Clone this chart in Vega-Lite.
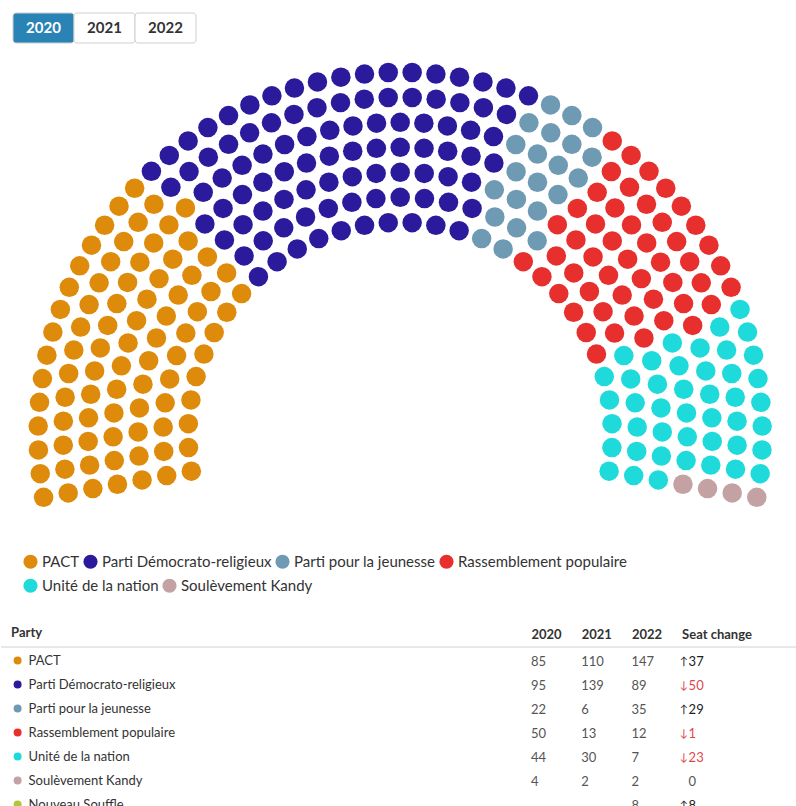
{
  "$schema": "https://vega.github.io/schema/vega-lite/v6.json",
  "background": "white",
  "padding": {"left": 0, "top": 12, "right": 0, "bottom": 0},
  "spacing": 0,
  "bounds": "flush",
  "config": {"view": {"stroke": null}, "font": "Lato"},
  "resolve": {"scale": {"color": "independent", "fill": "independent"}, "legend": {"color": "independent", "fill": "independent"}},
  "datasets": {
    "parties": [
      {"p": "PACT", "name": "PACT"},
      {"p": "PDR", "name": "Parti Démocrato-religieux"},
      {"p": "PPJ", "name": "Parti pour la jeunesse"},
      {"p": "RP", "name": "Rassemblement populaire"},
      {"p": "UN", "name": "Unité de la nation"},
      {"p": "SK", "name": "Soulèvement Kandy"}
    ],
    "rows": [
      {"row": 1, "lat": 68.79}, {"row": 2, "lat": 66.29}, {"row": 3, "lat": 63.79}, {"row": 4, "lat": 61.29},
      {"row": 5, "lat": 58.79}, {"row": 6, "lat": 56.29}, {"row": 7, "lat": 53.79}
    ]
  },
  "vconcat": [
    {
      "width": 796,
      "height": 30,
      "data": {"values": [
        {"year": "2020", "state": "selected"},
        {"year": "2021", "state": "default"},
        {"year": "2022", "state": "default"}
      ]},
      "encoding": {
        "x": {"field": "year", "type": "nominal", "axis": null,
              "scale": {"type": "band", "range": [12, 195], "paddingInner": 0, "paddingOuter": 0}}
      },
      "layer": [
        {
          "mark": {"type": "bar", "stroke": "#cfcfcf", "strokeWidth": 1, "cornerRadius": 3},
          "encoding": {"fill": {"field": "state", "type": "nominal", "legend": null,
                                "scale": {"domain": ["selected", "default"], "range": ["#2a83b5", "#ffffff"]}}}
        },
        {
          "mark": {"type": "text", "fontWeight": "bold", "fontSize": 15},
          "encoding": {
            "text": {"field": "year"},
            "color": {"field": "state", "type": "nominal", "legend": null,
                      "scale": {"domain": ["selected", "default"], "range": ["#ffffff", "#333333"]}}
          }
        }
      ]
    },
    {
      "width": 796,
      "height": 604,
      "data": {"values": [
        {"row":1,"lon":100,"p":"PACT"},{"row":1,"lon":93.55,"p":"PACT"},{"row":1,"lon":87.1,"p":"PACT"},{"row":1,"lon":80.65,"p":"PACT"},{"row":1,"lon":74.19,"p":"PACT"},{"row":1,"lon":67.74,"p":"PACT"},{"row":1,"lon":61.29,"p":"PACT"},{"row":1,"lon":54.84,"p":"PACT"},{"row":1,"lon":48.39,"p":"PACT"},
        {"row":1,"lon":41.94,"p":"PDR"},{"row":1,"lon":35.48,"p":"PDR"},{"row":1,"lon":29.03,"p":"PDR"},{"row":1,"lon":22.58,"p":"PDR"},{"row":1,"lon":16.13,"p":"PDR"},{"row":1,"lon":9.68,"p":"PDR"},{"row":1,"lon":3.23,"p":"PDR"},{"row":1,"lon":-3.23,"p":"PDR"},{"row":1,"lon":-9.68,"p":"PDR"},{"row":1,"lon":-16.13,"p":"PDR"},
        {"row":1,"lon":-22.58,"p":"PPJ"},{"row":1,"lon":-29.03,"p":"PPJ"},
        {"row":1,"lon":-35.48,"p":"RP"},{"row":1,"lon":-41.94,"p":"RP"},{"row":1,"lon":-48.39,"p":"RP"},{"row":1,"lon":-54.84,"p":"RP"},{"row":1,"lon":-61.29,"p":"RP"},{"row":1,"lon":-67.74,"p":"RP"},
        {"row":1,"lon":-74.19,"p":"UN"},{"row":1,"lon":-80.65,"p":"UN"},{"row":1,"lon":-87.1,"p":"UN"},{"row":1,"lon":-93.55,"p":"UN"},{"row":1,"lon":-100,"p":"UN"},

        {"row":2,"lon":100,"p":"PACT"},{"row":2,"lon":94.12,"p":"PACT"},{"row":2,"lon":88.24,"p":"PACT"},{"row":2,"lon":82.35,"p":"PACT"},{"row":2,"lon":76.47,"p":"PACT"},{"row":2,"lon":70.59,"p":"PACT"},{"row":2,"lon":64.71,"p":"PACT"},{"row":2,"lon":58.82,"p":"PACT"},{"row":2,"lon":52.94,"p":"PACT"},{"row":2,"lon":47.06,"p":"PACT"},
        {"row":2,"lon":41.18,"p":"PDR"},{"row":2,"lon":35.29,"p":"PDR"},{"row":2,"lon":29.41,"p":"PDR"},{"row":2,"lon":23.53,"p":"PDR"},{"row":2,"lon":17.65,"p":"PDR"},{"row":2,"lon":11.76,"p":"PDR"},{"row":2,"lon":5.88,"p":"PDR"},{"row":2,"lon":0,"p":"PDR"},{"row":2,"lon":-5.88,"p":"PDR"},{"row":2,"lon":-11.76,"p":"PDR"},{"row":2,"lon":-17.65,"p":"PDR"},
        {"row":2,"lon":-23.53,"p":"PPJ"},{"row":2,"lon":-29.41,"p":"PPJ"},{"row":2,"lon":-35.29,"p":"PPJ"},
        {"row":2,"lon":-41.18,"p":"RP"},{"row":2,"lon":-47.06,"p":"RP"},{"row":2,"lon":-52.94,"p":"RP"},{"row":2,"lon":-58.82,"p":"RP"},{"row":2,"lon":-64.71,"p":"RP"},
        {"row":2,"lon":-70.59,"p":"UN"},{"row":2,"lon":-76.47,"p":"UN"},{"row":2,"lon":-82.35,"p":"UN"},{"row":2,"lon":-88.24,"p":"UN"},{"row":2,"lon":-94.12,"p":"UN"},{"row":2,"lon":-100,"p":"UN"},

        {"row":3,"lon":100,"p":"PACT"},{"row":3,"lon":94.74,"p":"PACT"},{"row":3,"lon":89.47,"p":"PACT"},{"row":3,"lon":84.21,"p":"PACT"},{"row":3,"lon":78.95,"p":"PACT"},{"row":3,"lon":73.68,"p":"PACT"},{"row":3,"lon":68.42,"p":"PACT"},{"row":3,"lon":63.16,"p":"PACT"},{"row":3,"lon":57.89,"p":"PACT"},{"row":3,"lon":52.63,"p":"PACT"},{"row":3,"lon":47.37,"p":"PACT"},
        {"row":3,"lon":42.11,"p":"PDR"},{"row":3,"lon":36.84,"p":"PDR"},{"row":3,"lon":31.58,"p":"PDR"},{"row":3,"lon":26.32,"p":"PDR"},{"row":3,"lon":21.05,"p":"PDR"},{"row":3,"lon":15.79,"p":"PDR"},{"row":3,"lon":10.53,"p":"PDR"},{"row":3,"lon":5.26,"p":"PDR"},{"row":3,"lon":0,"p":"PDR"},{"row":3,"lon":-5.26,"p":"PDR"},{"row":3,"lon":-10.53,"p":"PDR"},{"row":3,"lon":-15.79,"p":"PDR"},
        {"row":3,"lon":-21.05,"p":"PPJ"},{"row":3,"lon":-26.32,"p":"PPJ"},{"row":3,"lon":-31.58,"p":"PPJ"},
        {"row":3,"lon":-36.84,"p":"RP"},{"row":3,"lon":-42.11,"p":"RP"},{"row":3,"lon":-47.37,"p":"RP"},{"row":3,"lon":-52.63,"p":"RP"},{"row":3,"lon":-57.89,"p":"RP"},{"row":3,"lon":-63.16,"p":"RP"},{"row":3,"lon":-68.42,"p":"RP"},
        {"row":3,"lon":-73.68,"p":"UN"},{"row":3,"lon":-78.95,"p":"UN"},{"row":3,"lon":-84.21,"p":"UN"},{"row":3,"lon":-89.47,"p":"UN"},{"row":3,"lon":-94.74,"p":"UN"},{"row":3,"lon":-100,"p":"UN"},

        {"row":4,"lon":100,"p":"PACT"},{"row":4,"lon":95.24,"p":"PACT"},{"row":4,"lon":90.48,"p":"PACT"},{"row":4,"lon":85.71,"p":"PACT"},{"row":4,"lon":80.95,"p":"PACT"},{"row":4,"lon":76.19,"p":"PACT"},{"row":4,"lon":71.43,"p":"PACT"},{"row":4,"lon":66.67,"p":"PACT"},{"row":4,"lon":61.9,"p":"PACT"},{"row":4,"lon":57.14,"p":"PACT"},{"row":4,"lon":52.38,"p":"PACT"},{"row":4,"lon":47.62,"p":"PACT"},
        {"row":4,"lon":42.86,"p":"PDR"},{"row":4,"lon":38.1,"p":"PDR"},{"row":4,"lon":33.33,"p":"PDR"},{"row":4,"lon":28.57,"p":"PDR"},{"row":4,"lon":23.81,"p":"PDR"},{"row":4,"lon":19.05,"p":"PDR"},{"row":4,"lon":14.29,"p":"PDR"},{"row":4,"lon":9.52,"p":"PDR"},{"row":4,"lon":4.76,"p":"PDR"},{"row":4,"lon":0,"p":"PDR"},{"row":4,"lon":-4.76,"p":"PDR"},{"row":4,"lon":-9.52,"p":"PDR"},{"row":4,"lon":-14.29,"p":"PDR"},{"row":4,"lon":-19.05,"p":"PDR"},
        {"row":4,"lon":-23.81,"p":"PPJ"},{"row":4,"lon":-28.57,"p":"PPJ"},{"row":4,"lon":-33.33,"p":"PPJ"},
        {"row":4,"lon":-38.1,"p":"RP"},{"row":4,"lon":-42.86,"p":"RP"},{"row":4,"lon":-47.62,"p":"RP"},{"row":4,"lon":-52.38,"p":"RP"},{"row":4,"lon":-57.14,"p":"RP"},{"row":4,"lon":-61.9,"p":"RP"},{"row":4,"lon":-66.67,"p":"RP"},
        {"row":4,"lon":-71.43,"p":"UN"},{"row":4,"lon":-76.19,"p":"UN"},{"row":4,"lon":-80.95,"p":"UN"},{"row":4,"lon":-85.71,"p":"UN"},{"row":4,"lon":-90.48,"p":"UN"},{"row":4,"lon":-95.24,"p":"UN"},
        {"row":4,"lon":-100,"p":"SK"},

        {"row":5,"lon":100,"p":"PACT"},{"row":5,"lon":95.65,"p":"PACT"},{"row":5,"lon":91.3,"p":"PACT"},{"row":5,"lon":86.96,"p":"PACT"},{"row":5,"lon":82.61,"p":"PACT"},{"row":5,"lon":78.26,"p":"PACT"},{"row":5,"lon":73.91,"p":"PACT"},{"row":5,"lon":69.57,"p":"PACT"},{"row":5,"lon":65.22,"p":"PACT"},{"row":5,"lon":60.87,"p":"PACT"},{"row":5,"lon":56.52,"p":"PACT"},{"row":5,"lon":52.17,"p":"PACT"},{"row":5,"lon":47.83,"p":"PACT"},{"row":5,"lon":43.48,"p":"PACT"},
        {"row":5,"lon":39.13,"p":"PDR"},{"row":5,"lon":34.78,"p":"PDR"},{"row":5,"lon":30.43,"p":"PDR"},{"row":5,"lon":26.09,"p":"PDR"},{"row":5,"lon":21.74,"p":"PDR"},{"row":5,"lon":17.39,"p":"PDR"},{"row":5,"lon":13.04,"p":"PDR"},{"row":5,"lon":8.7,"p":"PDR"},{"row":5,"lon":4.35,"p":"PDR"},{"row":5,"lon":0,"p":"PDR"},{"row":5,"lon":-4.35,"p":"PDR"},{"row":5,"lon":-8.7,"p":"PDR"},{"row":5,"lon":-13.04,"p":"PDR"},{"row":5,"lon":-17.39,"p":"PDR"},
        {"row":5,"lon":-21.74,"p":"PPJ"},{"row":5,"lon":-26.09,"p":"PPJ"},{"row":5,"lon":-30.43,"p":"PPJ"},{"row":5,"lon":-34.78,"p":"PPJ"},
        {"row":5,"lon":-39.13,"p":"RP"},{"row":5,"lon":-43.48,"p":"RP"},{"row":5,"lon":-47.83,"p":"RP"},{"row":5,"lon":-52.17,"p":"RP"},{"row":5,"lon":-56.52,"p":"RP"},{"row":5,"lon":-60.87,"p":"RP"},{"row":5,"lon":-65.22,"p":"RP"},{"row":5,"lon":-69.57,"p":"RP"},
        {"row":5,"lon":-73.91,"p":"UN"},{"row":5,"lon":-78.26,"p":"UN"},{"row":5,"lon":-82.61,"p":"UN"},{"row":5,"lon":-86.96,"p":"UN"},{"row":5,"lon":-91.3,"p":"UN"},{"row":5,"lon":-95.65,"p":"UN"},
        {"row":5,"lon":-100,"p":"SK"},

        {"row":6,"lon":100,"p":"PACT"},{"row":6,"lon":95.92,"p":"PACT"},{"row":6,"lon":91.84,"p":"PACT"},{"row":6,"lon":87.76,"p":"PACT"},{"row":6,"lon":83.67,"p":"PACT"},{"row":6,"lon":79.59,"p":"PACT"},{"row":6,"lon":75.51,"p":"PACT"},{"row":6,"lon":71.43,"p":"PACT"},{"row":6,"lon":67.35,"p":"PACT"},{"row":6,"lon":63.27,"p":"PACT"},{"row":6,"lon":59.18,"p":"PACT"},{"row":6,"lon":55.1,"p":"PACT"},{"row":6,"lon":51.02,"p":"PACT"},{"row":6,"lon":46.94,"p":"PACT"},
        {"row":6,"lon":42.86,"p":"PDR"},{"row":6,"lon":38.78,"p":"PDR"},{"row":6,"lon":34.69,"p":"PDR"},{"row":6,"lon":30.61,"p":"PDR"},{"row":6,"lon":26.53,"p":"PDR"},{"row":6,"lon":22.45,"p":"PDR"},{"row":6,"lon":18.37,"p":"PDR"},{"row":6,"lon":14.29,"p":"PDR"},{"row":6,"lon":10.2,"p":"PDR"},{"row":6,"lon":6.12,"p":"PDR"},{"row":6,"lon":2.04,"p":"PDR"},{"row":6,"lon":-2.04,"p":"PDR"},{"row":6,"lon":-6.12,"p":"PDR"},{"row":6,"lon":-10.2,"p":"PDR"},{"row":6,"lon":-14.29,"p":"PDR"},{"row":6,"lon":-18.37,"p":"PDR"},
        {"row":6,"lon":-22.45,"p":"PPJ"},{"row":6,"lon":-26.53,"p":"PPJ"},{"row":6,"lon":-30.61,"p":"PPJ"},{"row":6,"lon":-34.69,"p":"PPJ"},
        {"row":6,"lon":-38.78,"p":"RP"},{"row":6,"lon":-42.86,"p":"RP"},{"row":6,"lon":-46.94,"p":"RP"},{"row":6,"lon":-51.02,"p":"RP"},{"row":6,"lon":-55.1,"p":"RP"},{"row":6,"lon":-59.18,"p":"RP"},{"row":6,"lon":-63.27,"p":"RP"},{"row":6,"lon":-67.35,"p":"RP"},
        {"row":6,"lon":-71.43,"p":"UN"},{"row":6,"lon":-75.51,"p":"UN"},{"row":6,"lon":-79.59,"p":"UN"},{"row":6,"lon":-83.67,"p":"UN"},{"row":6,"lon":-87.76,"p":"UN"},{"row":6,"lon":-91.84,"p":"UN"},{"row":6,"lon":-95.92,"p":"UN"},
        {"row":6,"lon":-100,"p":"SK"},

        {"row":7,"lon":100,"p":"PACT"},{"row":7,"lon":96.23,"p":"PACT"},{"row":7,"lon":92.45,"p":"PACT"},{"row":7,"lon":88.68,"p":"PACT"},{"row":7,"lon":84.91,"p":"PACT"},{"row":7,"lon":81.13,"p":"PACT"},{"row":7,"lon":77.36,"p":"PACT"},{"row":7,"lon":73.58,"p":"PACT"},{"row":7,"lon":69.81,"p":"PACT"},{"row":7,"lon":66.04,"p":"PACT"},{"row":7,"lon":62.26,"p":"PACT"},{"row":7,"lon":58.49,"p":"PACT"},{"row":7,"lon":54.72,"p":"PACT"},{"row":7,"lon":50.94,"p":"PACT"},{"row":7,"lon":47.17,"p":"PACT"},
        {"row":7,"lon":43.4,"p":"PDR"},{"row":7,"lon":39.62,"p":"PDR"},{"row":7,"lon":35.85,"p":"PDR"},{"row":7,"lon":32.08,"p":"PDR"},{"row":7,"lon":28.3,"p":"PDR"},{"row":7,"lon":24.53,"p":"PDR"},{"row":7,"lon":20.75,"p":"PDR"},{"row":7,"lon":16.98,"p":"PDR"},{"row":7,"lon":13.21,"p":"PDR"},{"row":7,"lon":9.43,"p":"PDR"},{"row":7,"lon":5.66,"p":"PDR"},{"row":7,"lon":1.89,"p":"PDR"},{"row":7,"lon":-1.89,"p":"PDR"},{"row":7,"lon":-5.66,"p":"PDR"},{"row":7,"lon":-9.43,"p":"PDR"},{"row":7,"lon":-13.21,"p":"PDR"},{"row":7,"lon":-16.98,"p":"PDR"},{"row":7,"lon":-20.75,"p":"PDR"},
        {"row":7,"lon":-24.53,"p":"PPJ"},{"row":7,"lon":-28.3,"p":"PPJ"},{"row":7,"lon":-32.08,"p":"PPJ"},
        {"row":7,"lon":-35.85,"p":"RP"},{"row":7,"lon":-39.62,"p":"RP"},{"row":7,"lon":-43.4,"p":"RP"},{"row":7,"lon":-47.17,"p":"RP"},{"row":7,"lon":-50.94,"p":"RP"},{"row":7,"lon":-54.72,"p":"RP"},{"row":7,"lon":-58.49,"p":"RP"},{"row":7,"lon":-62.26,"p":"RP"},{"row":7,"lon":-66.04,"p":"RP"},
        {"row":7,"lon":-69.81,"p":"UN"},{"row":7,"lon":-73.58,"p":"UN"},{"row":7,"lon":-77.36,"p":"UN"},{"row":7,"lon":-81.13,"p":"UN"},{"row":7,"lon":-84.91,"p":"UN"},{"row":7,"lon":-88.68,"p":"UN"},{"row":7,"lon":-92.45,"p":"UN"},{"row":7,"lon":-96.23,"p":"UN"},
        {"row":7,"lon":-100,"p":"SK"}
      ]},
      "transform": [
        {"lookup": "row", "from": {"data": {"name": "rows"}, "key": "row", "fields": ["lat"]}},
        {"lookup": "p", "from": {"data": {"name": "parties"}, "key": "p", "fields": ["name"]}}
      ],
      "projection": {"type": "azimuthalEquidistant", "rotate": [180, -90, 0], "scale": 572.958, "translate": [399.2, 391.4]},
      "encoding": {
        "longitude": {"field": "lon", "type": "quantitative"},
        "latitude": {"field": "lat", "type": "quantitative"}
      },
      "layer": [
        {
          "mark": {"type": "circle", "size": 380, "opacity": 1},
          "encoding": {
            "color": {
              "field": "name", "type": "nominal",
              "scale": {
                "domain": ["PACT", "Parti Démocrato-religieux", "Parti pour la jeunesse", "Rassemblement populaire", "Unité de la nation", "Soulèvement Kandy"],
                "range": ["#de8b0b", "#2b1b9c", "#6f9ab4", "#e7302e", "#1fdada", "#c4a2a4"]
              },
              "legend": {
                "title": null, "orient": "none", "legendX": 22, "legendY": 511,
                "direction": "horizontal",
                "values": ["PACT", "Parti Démocrato-religieux", "Parti pour la jeunesse", "Rassemblement populaire"],
                "symbolType": "circle", "symbolSize": 201, "symbolStrokeWidth": 0, "symbolOpacity": 1,
                "labelFontSize": 15, "labelColor": "#333333", "labelOffset": 4,
                "columnPadding": 3, "labelLimit": 400, "padding": 0
              }
            }
          }
        },
        {
          "transform": [{"filter": {"field": "p", "oneOf": ["UN", "SK"]}}],
          "mark": {"type": "circle", "size": 380, "opacity": 0},
          "encoding": {
            "fill": {
              "field": "name", "type": "nominal",
              "scale": {"domain": ["Unité de la nation", "Soulèvement Kandy"], "range": ["#1fdada", "#c4a2a4"]},
              "legend": {
                "title": null, "orient": "none", "legendX": 22, "legendY": 535,
                "direction": "horizontal",
                "symbolType": "circle", "symbolSize": 201, "symbolStrokeWidth": 0, "symbolOpacity": 1,
                "labelFontSize": 15, "labelColor": "#333333", "labelOffset": 4,
                "columnPadding": 3, "labelLimit": 400, "padding": 0
              }
            }
          }
        }
      ]
    },
    {
      "width": 796,
      "height": 174,
      "data": {"values": [
        {"Party": "PACT", "2020": "85", "2021": "110", "2022": "147", "arrow": "↑", "Seat change": "37", "dir": "up"},
        {"Party": "Parti Démocrato-religieux", "2020": "95", "2021": "139", "2022": "89", "arrow": "↓", "Seat change": "50", "dir": "down"},
        {"Party": "Parti pour la jeunesse", "2020": "22", "2021": "6", "2022": "35", "arrow": "↑", "Seat change": "29", "dir": "up"},
        {"Party": "Rassemblement populaire", "2020": "50", "2021": "13", "2022": "12", "arrow": "↓", "Seat change": "1", "dir": "down"},
        {"Party": "Unité de la nation", "2020": "44", "2021": "30", "2022": "7", "arrow": "↓", "Seat change": "23", "dir": "down"},
        {"Party": "Soulèvement Kandy", "2020": "4", "2021": "2", "2022": "2", "arrow": "", "Seat change": "0", "dir": "none"},
        {"Party": "Nouveau Souffle", "2020": "", "2021": "", "2022": "8", "arrow": "↑", "Seat change": "8", "dir": "up"}
      ]},
      "encoding": {
        "y": {"field": "Party", "type": "nominal", "axis": null,
              "scale": {"type": "point", "padding": 0.625,
                        "domain": ["PACT", "Parti Démocrato-religieux", "Parti pour la jeunesse", "Rassemblement populaire", "Unité de la nation", "Soulèvement Kandy", "Nouveau Souffle"]}}
      },
      "layer": [
        {
          "data": {"values": [{"line": "header"}]},
          "mark": {"type": "rule", "color": "#d0d0d0", "strokeWidth": 1},
          "encoding": {"y": {"value": 0}}
        },
        {
          "mark": {"type": "point", "filled": true, "opacity": 0},
          "encoding": {
            "fill": {
              "field": "Party", "type": "nominal",
              "scale": {
                "domain": ["PACT", "Parti Démocrato-religieux", "Parti pour la jeunesse", "Rassemblement populaire", "Unité de la nation", "Soulèvement Kandy", "Nouveau Souffle"],
                "range": ["#de8b0b", "#2b1b9c", "#6f9ab4", "#e7302e", "#1fdada", "#c4a2a4", "#b9c23c"]
              },
              "legend": {
                "title": "Party", "orient": "none", "legendX": 10.1, "legendY": -20,
                "direction": "vertical", "symbolType": "circle", "symbolSize": 64,
                "symbolStrokeWidth": 0, "symbolOpacity": 1,
                "labelFontSize": 13, "labelColor": "#333333", "labelOffset": 4.5, "labelLimit": 400,
                "rowPadding": 10, "titleFontSize": 13, "titleFontWeight": "bold", "titleColor": "#333333",
                "titlePadding": 14, "padding": 0
              }
            }
          }
        },
        {
          "transform": [{"fold": ["2020", "2021", "2022"], "as": ["column", "value"]}],
          "mark": {"type": "text", "align": "left", "fontSize": 13, "color": "#555555"},
          "encoding": {
            "x": {"field": "column", "type": "nominal",
                  "scale": {"type": "point", "domain": ["2020", "2021", "2022", "Seat change"], "range": [530, 680.6], "padding": 0},
                  "axis": {"orient": "top", "title": null, "ticks": false, "domain": false,
                           "labelAlign": "left", "labelAngle": 0, "labelBaseline": "middle", "labelFontWeight": "bold",
                           "labelFontSize": 13, "labelColor": "#333333", "labelPadding": 13, "grid": false}},
            "text": {"field": "value"}
          }
        },
        {
          "transform": [{"fold": ["Seat change"], "as": ["column", "value"]}],
          "mark": {"type": "text", "align": "center", "fontSize": 11, "dx": 2},
          "encoding": {
            "x": {"field": "column", "type": "nominal"},
            "text": {"field": "arrow"},
            "color": {"field": "dir", "type": "nominal", "legend": null,
                      "scale": {"domain": ["up", "down", "none"], "range": ["#222222", "#e0474c", "#555555"]}}
          }
        },
        {
          "transform": [{"fold": ["Seat change"], "as": ["column", "value"]}],
          "mark": {"type": "text", "align": "left", "fontSize": 13, "dx": 7},
          "encoding": {
            "x": {"field": "column", "type": "nominal"},
            "text": {"field": "value"},
            "color": {"field": "dir", "type": "nominal", "legend": null}
          }
        }
      ]
    }
  ]
}
